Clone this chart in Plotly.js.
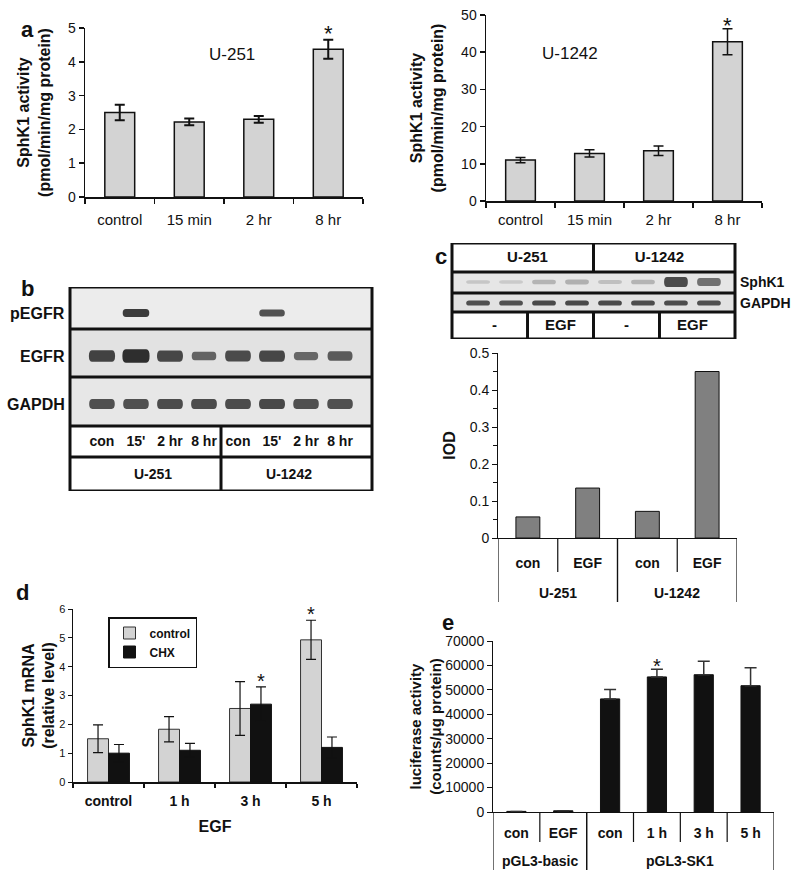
<!DOCTYPE html>
<html><head><meta charset="utf-8">
<script src="https://cdn.plot.ly/plotly-3.0.1.min.js"></script>
<style>html,body{margin:0;padding:0;background:#fff}#chart{width:800px;height:880px}</style>
</head><body><div id="chart"></div>
<script>
// ---------------- DATA ----------------
const aCats = ['control', '15 min', '2 hr', '8 hr'];
const a251Vals = [2.5, 2.22, 2.3, 4.37];
const a251Err = [0.23, 0.1, 0.1, 0.28];
const a251Sig = [false, false, false, true];
const a1242Vals = [11.0, 12.8, 13.5, 42.8];
const a1242Err = [0.7, 1.0, 1.3, 3.5];
const a1242Sig = [false, false, false, true];

const bLanes = ['con', "15'", '2 hr', '8 hr', 'con', "15'", '2 hr', '8 hr'];
const bCellLines = ['U-251', 'U-1242'];
const bRows = ['pEGFR', 'EGFR', 'GAPDH'];
const bPEGFR = [0, 0.85, 0, 0, 0, 0.6, 0, 0];
const bEGFR = [0.75, 1.0, 0.7, 0.35, 0.65, 0.7, 0.3, 0.45];
const bGAPDH = [0.6, 0.6, 0.65, 0.65, 0.65, 0.7, 0.6, 0.6];

const cCellLines = ['U-251', 'U-1242'];
const cTreat = ['-', 'EGF', '-', 'EGF'];
const cBlotRows = ['SphK1', 'GAPDH'];
const cSphK1 = [0.08, 0.05, 0.2, 0.22, 0.12, 0.2, 0.9, 0.65];
const cGAPDH = [0.6, 0.6, 0.7, 0.7, 0.7, 0.65, 0.65, 0.6];
const cGroups = ['U-251', 'U-251', 'U-1242', 'U-1242'];
const cSub = ['con', 'EGF', 'con', 'EGF'];
const cIOD = [0.057, 0.135, 0.072, 0.45];

const dCats = ['control', '1 h', '3 h', '5 h'];
const dControl = [1.5, 1.83, 2.55, 4.93];
const dControlErr = [0.48, 0.44, 0.93, 0.68];
const dCHX = [1.0, 1.1, 2.7, 1.2];
const dCHXErr = [0.3, 0.24, 0.6, 0.36];
const dSigControl = [false, false, false, true];
const dSigCHX = [false, false, true, false];

const eGroups = ['pGL3-basic', 'pGL3-basic', 'pGL3-SK1', 'pGL3-SK1', 'pGL3-SK1', 'pGL3-SK1'];
const eSub = ['con', 'EGF', 'con', '1 h', '3 h', '5 h'];
const eVals = [250, 500, 46300, 55300, 56200, 51700];
const eErr = [0, 0, 3850, 3150, 5500, 7400];
const eSig = [false, false, false, true, false, false];

// ---------------- HELPERS ----------------
const W = 800, H = 880;
const X = p => p / W;
const Y = p => 1 - p / H;
const FONT = 'Arial, "Liberation Sans", sans-serif';
const INK = '#111';

function baseX(domain, anchor, extra) {
  return Object.assign({
    domain: domain, anchor: anchor, showgrid: false, zeroline: false,
    showline: true, linecolor: INK, linewidth: 1.5,
    ticks: 'outside', ticklen: 5, tickwidth: 1.5, tickcolor: INK,
    tickfont: {family: FONT, size: 15, color: INK}, fixedrange: true
  }, extra || {});
}
function baseY(domain, anchor, extra) {
  return Object.assign({
    domain: domain, anchor: anchor, showgrid: false, zeroline: false,
    showline: true, linecolor: INK, linewidth: 1.5,
    ticks: 'outside', ticklen: 5, tickwidth: 1.5, tickcolor: INK,
    tickfont: {family: FONT, size: 14, color: INK}, fixedrange: true
  }, extra || {});
}
function hidden(domain, anchor, range) {
  return {domain: domain, anchor: anchor, range: range, visible: false, fixedrange: true};
}
function bandPath(xc, hw, yc, hh) {
  const x0 = xc - hw, x1 = xc + hw, y0 = yc - hh, y1 = yc + hh, r = hw * 0.25;
  return `M${x0 + r},${y0} L${x1 - r},${y0} Q${x1},${y0} ${x1},${yc} Q${x1},${y1} ${x1 - r},${y1} ` +
         `L${x0 + r},${y1} Q${x0},${y1} ${x0},${yc} Q${x0},${y0} ${x0 + r},${y0} Z`;
}

const traces = [];
const annotations = [];
const shapes = [];
const star = (xref, yref, x, y, size, shift) => ({xref: xref, yref: yref, x: x, y: y, text: '*', showarrow: false,
  yanchor: 'bottom', yshift: shift, font: {family: FONT, size: size, color: INK}});

// ---------------- PANEL a ----------------
function errBar(arr, w, t) {
  return {type: 'data', array: arr, visible: true, color: INK, thickness: t || 1.5, width: w || 5};
}
traces.push({type: 'bar', x: aCats, y: a251Vals, xaxis: 'x', yaxis: 'y', width: 0.43,
  marker: {color: '#d3d3d3', line: {color: INK, width: 1.5}}, error_y: errBar(a251Err, 5, 2),
  showlegend: false, hoverinfo: 'x+y'});
traces.push({type: 'bar', x: aCats, y: a1242Vals, xaxis: 'x2', yaxis: 'y2', width: 0.43,
  marker: {color: '#d3d3d3', line: {color: INK, width: 1.5}}, error_y: errBar(a1242Err, 5, 1.5),
  showlegend: false, hoverinfo: 'x+y'});
a251Sig.forEach((s, i) => { if (s) annotations.push(star('x', 'y', aCats[i], a251Vals[i] + a251Err[i], 22, -8)); });
a1242Sig.forEach((s, i) => { if (s) annotations.push(star('x2', 'y2', aCats[i], a1242Vals[i] + a1242Err[i], 22, -11)); });

// ---------------- PANEL c chart ----------------
const cIdx = cSub.map((_, i) => i);
traces.push({type: 'bar', x: cIdx, y: cIOD, xaxis: 'x3', yaxis: 'y3', width: 0.4,
  marker: {color: '#808080', line: {color: INK, width: 1}}, showlegend: false, hoverinfo: 'y'});

// ---------------- PANEL d ----------------
traces.push({type: 'bar', name: 'control', x: dCats, y: dControl, xaxis: 'x4', yaxis: 'y4',
  marker: {color: '#d3d3d3', line: {color: '#333', width: 1}}, error_y: errBar(dControlErr, 5, 1.2),
  showlegend: true, hoverinfo: 'name+y'});
traces.push({type: 'bar', name: 'CHX', x: dCats, y: dCHX, xaxis: 'x4', yaxis: 'y4',
  marker: {color: '#111', line: {color: '#111', width: 1}}, error_y: errBar(dCHXErr, 5, 1.2),
  showlegend: true, hoverinfo: 'name+y'});
const dHalf = (1 - 0.41) / 4;
dSigControl.forEach((s, i) => { if (s) annotations.push(star('x4', 'y4', i - dHalf, dControl[i] + dControlErr[i], 20, -7)); });
dSigCHX.forEach((s, i) => { if (s) annotations.push(star('x4', 'y4', i + dHalf, dCHX[i] + dCHXErr[i], 20, -7)); });

// ---------------- PANEL e ----------------
const eIdx = eSub.map((_, i) => i);
traces.push({type: 'bar', x: eIdx, y: eVals, xaxis: 'x5', yaxis: 'y5', width: 0.41,
  marker: {color: '#111', line: {color: '#111', width: 1}},
  error_y: {type: 'data', symmetric: false, array: eErr, arrayminus: eErr.map(() => 0), color: '#333', thickness: 1.5, width: 6},
  showlegend: false, hoverinfo: 'y'});
eSig.forEach((s, i) => { if (s) annotations.push(star('x5', 'y5', i, eVals[i] + eErr[i], 20, -10)); });

// two-level category axes (c and e): group labels + separators
function twoLevel(groups, xref, axisPx, subBottomPx, groupBottomPx, groupLabelPx) {
  const uniq = [...new Set(groups)];
  uniq.forEach(g => {
    const idx = groups.map((v, i) => v === g ? i : -1).filter(i => i >= 0);
    const lo = Math.min(...idx), hi = Math.max(...idx);
    annotations.push({xref: xref, yref: 'paper', x: (lo + hi) / 2, y: Y(groupLabelPx), text: g, showarrow: false,
      yanchor: 'middle', font: {family: FONT, size: 14, color: INK, weight: 'bold'}});
    [lo - 0.5, hi + 0.5].forEach(b => shapes.push({type: 'line', xref: xref, yref: 'paper', x0: b, x1: b,
      y0: Y(axisPx), y1: Y(groupBottomPx), line: {color: INK, width: 1.2}}));
    for (let k = lo; k < hi; k++) shapes.push({type: 'line', xref: xref, yref: 'paper', x0: k + 0.5, x1: k + 0.5,
      y0: Y(axisPx), y1: Y(subBottomPx), line: {color: INK, width: 1.2}});
  });
}
twoLevel(cGroups, 'x3', 538, 572, 602, 593);
twoLevel(eGroups, 'x5', 812, 842, 870, 861);

// ---------------- PANEL b blot ----------------
const bBounds = [0, 42, 90, 139, 170, 204]; // row edges (px below blot top)
const bRowCenter = [26, 69, 117];
const bBandH = [[2.5, 3.5], [3, 7.5], [4, 3]];
const bBgs = ['#ececec', '#e2e2e2', '#e7e7e7'];
const bBandData = [bPEGFR, bEGFR, bGAPDH];
for (let r = 0; r < 3; r++) {
  shapes.push({type: 'rect', xref: 'paper', yref: 'y6', x0: X(70), x1: X(372), y0: bBounds[r], y1: bBounds[r + 1],
    fillcolor: bBgs[r], line: {width: 0}, layer: 'below'});
  bBandData[r].forEach((v, i) => {
    if (v <= 0) return;
    shapes.push({type: 'path', xref: 'x6', yref: 'y6',
      path: bandPath(i, 0.34 + 0.06 * v, bRowCenter[r], bBandH[r][0] + bBandH[r][1] * v * 0.5),
      fillcolor: `rgba(30,30,30,${0.5 + 0.42 * v})`, line: {width: 0}});
  });
  annotations.push({xref: 'paper', yref: 'paper', x: X(67), y: Y(287 + bRowCenter[r]), xanchor: 'right', yanchor: 'middle',
    text: bRows[r], showarrow: false, font: {family: FONT, size: 16, color: INK, weight: 'bold'}});
}
for (let k = 0; k < bBounds.length; k++) {
  shapes.push({type: 'line', xref: 'paper', yref: 'y6', x0: X(70), x1: X(372), y0: bBounds[k], y1: bBounds[k], line: {color: INK, width: 3}});
}
shapes.push({type: 'line', xref: 'paper', yref: 'y6', x0: X(70), x1: X(70), y0: 0, y1: 204, line: {color: INK, width: 3}});
shapes.push({type: 'line', xref: 'paper', yref: 'y6', x0: X(372), x1: X(372), y0: 0, y1: 204, line: {color: INK, width: 3}});
shapes.push({type: 'line', xref: 'x6', yref: 'y6', x0: 3.5, x1: 3.5, y0: 139, y1: 204, line: {color: INK, width: 3}});
traces.push({type: 'scatter', mode: 'text', x: bLanes.map((_, i) => i), y: bLanes.map(() => 155), text: bLanes,
  xaxis: 'x6', yaxis: 'y6', textfont: {family: FONT, size: 14, color: INK, weight: 'bold'}, showlegend: false, hoverinfo: 'skip'});
traces.push({type: 'scatter', mode: 'text', x: [1.5, 5.5], y: [188, 188], text: bCellLines,
  xaxis: 'x6', yaxis: 'y6', textfont: {family: FONT, size: 14, color: INK, weight: 'bold'}, showlegend: false, hoverinfo: 'skip'});

// ---------------- PANEL c blot ----------------
const cBounds = [0, 29, 50, 69, 96];
const cRowCenter = [39, 60];
const cBandData = [cSphK1, cGAPDH];
const cBgs = ['#e6e6e6', '#e2e2e2'];
for (let r = 0; r < 2; r++) {
  shapes.push({type: 'rect', xref: 'paper', yref: 'y7', x0: X(452), x1: X(735), y0: cBounds[r + 1], y1: cBounds[r + 2],
    fillcolor: cBgs[r], line: {width: 0}, layer: 'below'});
  cBandData[r].forEach((v, i) => {
    if (v <= 0) return;
    shapes.push({type: 'path', xref: 'x7', yref: 'y7',
      path: bandPath(i, 0.36, cRowCenter[r], r === 0 ? 1.5 + 4 * v : 2.6),
      fillcolor: `rgba(30,30,30,${r === 0 ? 0.1 + 0.75 * v : 0.5 + 0.4 * v})`, line: {width: 0}});
  });
  annotations.push({xref: 'paper', yref: 'paper', x: X(738), y: Y(243 + cRowCenter[r]), xanchor: 'left', yanchor: 'middle',
    text: cBlotRows[r], showarrow: false, font: {family: FONT, size: 14, color: INK, weight: 'bold'}});
}
for (let k = 0; k < cBounds.length; k++) {
  shapes.push({type: 'line', xref: 'paper', yref: 'y7', x0: X(452), x1: X(735), y0: cBounds[k], y1: cBounds[k], line: {color: INK, width: 3}});
}
shapes.push({type: 'line', xref: 'paper', yref: 'y7', x0: X(452), x1: X(452), y0: 0, y1: 96, line: {color: INK, width: 3}});
shapes.push({type: 'line', xref: 'paper', yref: 'y7', x0: X(735), x1: X(735), y0: 0, y1: 96, line: {color: INK, width: 3}});
shapes.push({type: 'line', xref: 'x7', yref: 'y7', x0: 3.5, x1: 3.5, y0: 0, y1: 29, line: {color: INK, width: 3}});
[1.5, 3.5, 5.5].forEach(v => shapes.push({type: 'line', xref: 'x7', yref: 'y7', x0: v, x1: v, y0: 69, y1: 96, line: {color: INK, width: 3}}));
traces.push({type: 'scatter', mode: 'text', x: [1.5, 5.5], y: [15, 15], text: cCellLines,
  xaxis: 'x7', yaxis: 'y7', textfont: {family: FONT, size: 15, color: INK, weight: 'bold'}, showlegend: false, hoverinfo: 'skip'});
traces.push({type: 'scatter', mode: 'text', x: [0.5, 2.5, 4.5, 6.5], y: [83, 83, 83, 83], text: cTreat,
  xaxis: 'x7', yaxis: 'y7', textfont: {family: FONT, size: 15, color: INK, weight: 'bold'}, showlegend: false, hoverinfo: 'skip'});

// panel letters
[['a', 27, 30], ['b', 27, 289], ['c', 441, 257], ['d', 22, 592], ['e', 448, 622]].forEach(([t, x, y]) =>
  annotations.push({xref: 'paper', yref: 'paper', x: X(x), y: Y(y), text: t, showarrow: false,
    xanchor: 'center', yanchor: 'middle', font: {family: FONT, size: 22, color: INK, weight: 'bold'}}));
// panel a subtitles
annotations.push({xref: 'paper', yref: 'paper', x: X(207), y: Y(43), text: 'U-251', showarrow: false,
  font: {family: FONT, size: 17, color: INK}});
annotations.push({xref: 'paper', yref: 'paper', x: X(600), y: Y(42), text: 'U-1242', showarrow: false,
  font: {family: FONT, size: 17, color: INK}});

const titleFont = s => ({family: FONT, size: s, color: INK, weight: 'bold'});
const boldTick = {family: FONT, size: 14, color: INK, weight: 'bold'};

const layout = {
  width: W, height: H, margin: {l: 0, r: 0, t: 0, b: 0},
  paper_bgcolor: '#fff', plot_bgcolor: 'rgba(0,0,0,0)',
  font: {family: FONT, color: INK},
  barmode: 'group', bargap: 0.41, bargroupgap: 0,
  showlegend: true,
  legend: {x: X(108), y: Y(617), xanchor: 'left', yanchor: 'top', bgcolor: '#fff', bordercolor: INK, borderwidth: 1.5,
    font: {family: FONT, size: 12, color: INK, weight: 'bold'}, itemwidth: 30, tracegroupgap: 0},
  // a left
  xaxis: baseX([X(85), X(363)], 'y', {type: 'category', range: [-0.5, 3.5], tickson: 'boundaries', ticklabelstandoff: 8}),
  yaxis: baseY([Y(197), Y(28)], 'x', {range: [0, 5], dtick: 1,
    title: {text: 'SphK1 activity<br>(pmol/min/mg protein)', font: titleFont(16), standoff: 13}}),
  // a right
  xaxis2: baseX([X(486), X(762)], 'y2', {type: 'category', range: [-0.5, 3.5], tickson: 'boundaries', ticklabelstandoff: 4}),
  yaxis2: baseY([Y(201), Y(15)], 'x2', {range: [0, 50], dtick: 10,
    title: {text: 'SphK1 activity<br>(pmol/min/mg protein)', font: titleFont(16), standoff: 13}}),
  // c chart
  xaxis3: baseX([X(498), X(737)], 'y3', {range: [-0.5, 3.5], tickvals: cIdx, ticktext: cSub, ticks: '', linewidth: 1,
    tickfont: boldTick, ticklabelstandoff: 12}),
  yaxis3: baseY([Y(538), Y(353)], 'x3', {range: [0, 0.5], dtick: 0.1, linewidth: 1, tickwidth: 1,
    minor: {dtick: 0.05, ticks: 'outside', ticklen: 4, tickcolor: INK, tickwidth: 1},
    title: {text: 'IOD', font: titleFont(16), standoff: 10}}),
  // d
  xaxis4: baseX([X(73), X(357)], 'y4', {type: 'category', range: [-0.5, 3.5], tickson: 'boundaries', ticklen: 4,
    tickfont: boldTick, ticklabelstandoff: 6, title: {text: 'EGF', font: titleFont(16), standoff: 12}}),
  yaxis4: baseY([Y(782), Y(609)], 'x4', {range: [0, 6], dtick: 1, ticklen: 4, tickwidth: 1,
    tickfont: {family: FONT, size: 11, color: INK},
    title: {text: 'SphK1 mRNA<br>(relative level)', font: titleFont(16), standoff: 0}}),
  // e
  xaxis5: baseX([X(493), X(774)], 'y5', {range: [-0.5, 5.5], tickvals: eIdx, ticktext: eSub, ticks: '', linewidth: 1,
    tickfont: boldTick, ticklabelstandoff: 8}),
  yaxis5: baseY([Y(812), Y(641)], 'x5', {range: [0, 70000], dtick: 10000, tickformat: 'd', linewidth: 1, tickwidth: 1,
    title: {text: 'luciferase activity<br>(counts/μg protein)', font: titleFont(15), standoff: 0}}),
  // blot axes
  xaxis6: hidden([X(70), X(372)], 'y6', [-0.94, 7.94]),
  yaxis6: hidden([Y(491), Y(287)], 'x6', [204, 0]),
  xaxis7: hidden([X(452), X(735)], 'y7', [-0.79, 7.79]),
  yaxis7: hidden([Y(339), Y(243)], 'x7', [96, 0]),
  shapes: shapes,
  annotations: annotations
};

Plotly.newPlot('chart', traces, layout, {displayModeBar: false, staticPlot: true});
</script>
</body></html>
